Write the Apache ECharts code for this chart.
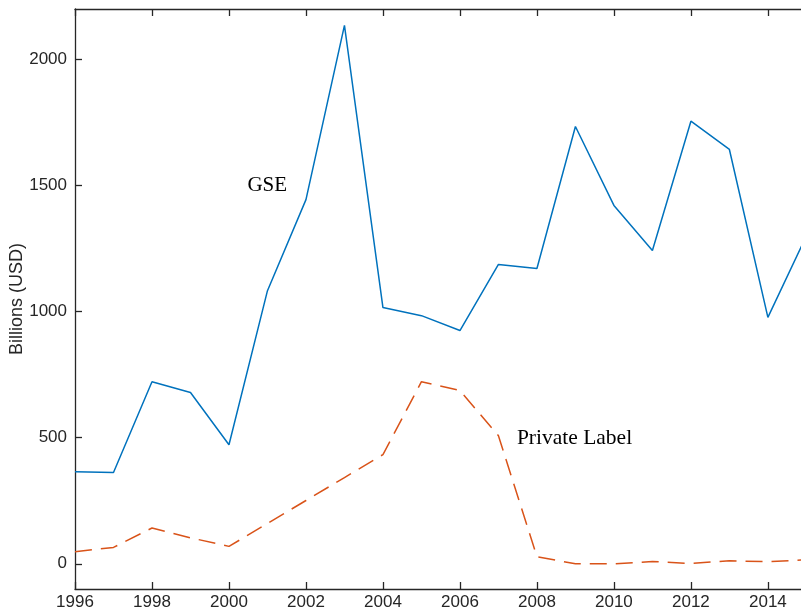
<!DOCTYPE html>
<html>
<head>
<meta charset="utf-8">
<script src="https://cdn.jsdelivr.net/npm/echarts@6/dist/echarts.min.js"></script>
<style>
  html, body { margin: 0; padding: 0; background: #fff; }
  #chart { width: 801px; height: 613px; }
</style>
</head>
<body>
<div id="chart"></div>
<script>
// Annual issuance of mortgage-backed securities, billions of USD
const years = [1996, 1997, 1998, 1999, 2000, 2001, 2002, 2003, 2004, 2005,
               2006, 2007, 2008, 2009, 2010, 2011, 2012, 2013, 2014, 2015];
const gse = [365, 362, 722, 679, 472, 1083, 1444, 2135, 1016, 984,
             925, 1187, 1171, 1734, 1421, 1242, 1755, 1643, 977, 1300];
const privateLabel = [48, 65, 142, 103, 69, 160, 251, 342, 433, 722,
                      687, 508, 28, 0, 0, 9, 1, 12, 8, 16];
const xTicks = [1996, 1998, 2000, 2002, 2004, 2006, 2008, 2010, 2012, 2014];
const yTicks = [0, 500, 1000, 1500, 2000];

const axisColor = '#262626';
const sans = '"Liberation Sans", Arial, Helvetica, sans-serif';
const serif = '"Liberation Serif", "DejaVu Serif", serif';

const xMin = 1996, xMax = 2014.86;
const yMin = -100, yMax = 2200;

const chart = echarts.init(document.getElementById('chart'), null, { renderer: 'canvas' });

const pairs = (ys) => years.map((x, i) => [x, ys[i]]);

const tickStyle = { color: axisColor, width: 1.3 };

chart.setOption({
  animation: false,
  grid: { left: 75, top: 9, right: 0, bottom: 24, containLabel: false, outerBoundsMode: 'none' },
  xAxis: [
    {
      type: 'value', min: xMin, max: xMax, position: 'bottom',
      axisLine: { show: true, onZero: false, lineStyle: tickStyle },
      axisTick: { show: true, inside: true, length: 7, customValues: xTicks, lineStyle: tickStyle },
      axisLabel: { customValues: xTicks, color: axisColor, fontFamily: sans, fontSize: 17, margin: 5,
                   formatter: (v) => String(v) },
      splitLine: { show: false }
    },
    {
      type: 'value', min: xMin, max: xMax, position: 'top',
      axisLine: { show: true, onZero: false, lineStyle: tickStyle },
      axisTick: { show: true, inside: true, length: 7, customValues: xTicks, lineStyle: tickStyle },
      axisLabel: { show: false },
      splitLine: { show: false }
    }
  ],
  yAxis: {
    type: 'value', min: yMin, max: yMax,
    name: 'Billions (USD)', nameLocation: 'middle', nameGap: 49, nameMoveOverlap: false,
    nameTextStyle: { color: axisColor, fontFamily: sans, fontSize: 18 },
    axisLine: { show: true, onZero: false, lineStyle: tickStyle },
    axisTick: { show: true, inside: true, length: 7, customValues: yTicks, lineStyle: tickStyle },
    axisLabel: { customValues: yTicks, color: axisColor, fontFamily: sans, fontSize: 17, margin: 8,
                 formatter: (v) => String(v) },
    splitLine: { show: false }
  },
  series: [
    {
      name: 'GSE', type: 'line', data: pairs(gse), showSymbol: false, clip: true,
      lineStyle: { color: '#0072BD', width: 1.5 },
      markPoint: {
        symbol: 'circle', symbolSize: 0,
        data: [{ coord: [2000.48, 1500], value: 'GSE' }],
        label: { show: true, position: 'right', distance: 0, formatter: 'GSE',
                 color: '#000', fontFamily: serif, fontSize: 21 }
      }
    },
    {
      name: 'Private Label', type: 'line', data: pairs(privateLabel), showSymbol: false, clip: true,
      lineStyle: { color: '#D95319', width: 1.5, type: [17, 9] },
      markPoint: {
        symbol: 'circle', symbolSize: 0,
        data: [{ coord: [2007.48, 496], value: 'Private Label' }],
        label: { show: true, position: 'right', distance: 0, formatter: 'Private Label',
                 color: '#000', fontFamily: serif, fontSize: 21.5 }
      }
    }
  ]
});
</script>
</body>
</html>
